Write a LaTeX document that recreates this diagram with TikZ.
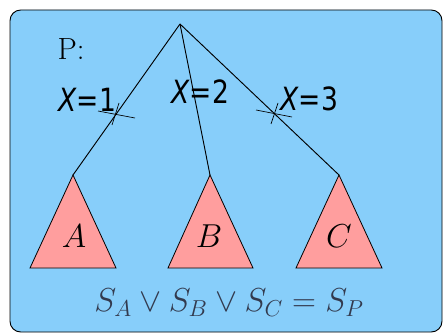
\documentclass[tikz,border=0pt]{standalone}
\usepackage{fontspec}
\newfontfamily\lblfont{DejaVu Sans}
\definecolor{bgblue}{RGB}{135,206,250}
\definecolor{tripink}{RGB}{255,158,158}
\definecolor{formula}{RGB}{50,58,78}
\begin{document}
\begin{tikzpicture}[x=0.75pt,y=-0.75pt,
  edge/.style={draw=black,line width=0.7pt},
  tri/.style={draw=black,fill=tripink,line width=0.6pt},
  cut/.style={draw=black,line width=0.5pt},
  lbl/.style={font=\lblfont\fontsize{24}{26}\selectfont,inner sep=0pt,xscale=0.83},
  trilbl/.style={font=\fontsize{26}{28}\selectfont,inner sep=0pt}]
\useasboundingbox (0,0) rectangle (443,335);
\fill[white] (0,0) rectangle (443,335);
\draw[fill=bgblue,line width=0.7pt,rounded corners=8pt] (10,10) rectangle (442,332);
% tree
\coordinate (top) at (180,24);
\coordinate (ta) at (73,175);
\coordinate (tb) at (210,175);
\coordinate (tc) at (339,175);
\draw[tri] (ta) -- (116,268) -- (30,268) -- cycle;
\draw[tri] (tb) -- (253,268) -- (168,268) -- cycle;
\draw[tri] (tc) -- (382,268) -- (296,268) -- cycle;
\draw[edge] (top) -- (ta);
\draw[edge] (top) -- (tb);
\draw[edge] (top) -- (tc);
% cut marks
\draw[cut] (98,111) -- (135,118);
\draw[cut] (119,103) -- (112,125);
\draw[cut] (256,110) -- (292,117);
\draw[cut] (278,103) -- (271,124);
% labels
\node[font=\fontsize{23}{25}\selectfont,inner sep=0pt] (p) at (71,49) {P:};
\node[lbl] (x1) at (87,100) {\textit{X}=1};
\node[lbl] (x2) at (200,92) {\textit{X}=2};
\node[lbl] (x3) at (309,99) {\textit{X}=3};
\node[trilbl] (la) at (74,236) {$A$};
\node[trilbl] (lb) at (209,236) {$B$};
\node[trilbl] (lc) at (339,236) {$C$};
\node[font=\fontsize{23}{25}\selectfont,text=formula,inner sep=0pt] (f) at (229,303) {$S_{A}\vee S_{B}\vee S_{C}=S_{P}$};
\end{tikzpicture}
\end{document}
